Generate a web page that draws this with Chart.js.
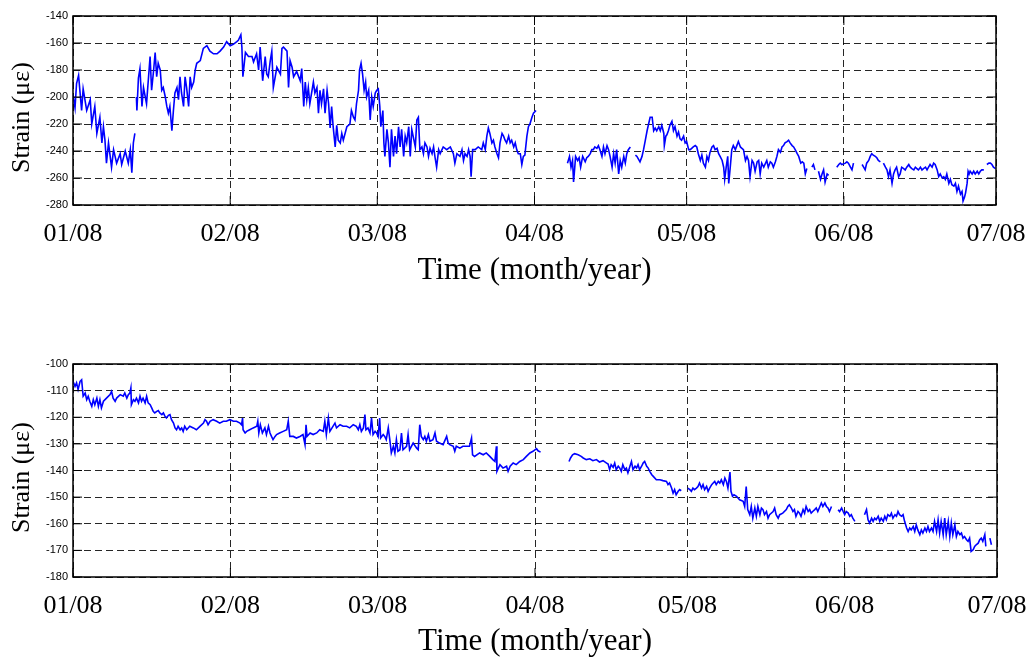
<!DOCTYPE html>
<html>
<head>
<meta charset="utf-8">
<script src="https://cdn.jsdelivr.net/npm/chart.js@4.4.1/dist/chart.umd.min.js"></script>
<style>
  body { margin: 0; background: #fff; }
  canvas { position: absolute; left: 0; }
  #topChart { top: 0; }
  #bottomChart { top: 340px; }
</style>
</head>
<body>
<canvas id="topChart" width="1027" height="300"></canvas>
<canvas id="bottomChart" width="1027" height="324"></canvas>
<script>
// days counted from 1 Jan 2008, month starts used as x ticks
const monthDays = [0, 31, 60, 91, 121, 152, 182];
const monthLabels = ["01/08", "02/08", "03/08", "04/08", "05/08", "06/08", "07/08"];
const yTitle = "Strain (\u03bc\u03b5)";
const xTitle = "Time (month/year)";

// upper gauge (null = missing readings)
const topDays = [
  0, 0.4, 0.7, 1.1, 1.7, 2.0, 2.7, 3.4, 3.7, 4.3, 4.7, 5.3, 5.7, 6.0, 6.3, 6.6, 7.0, 7.6, 8.0, 8.6,
  9.3, 9.6, 10.3, 10.9, 11.3, 11.6, 11.9, 12.2, 12.4, 12.5, 12.6, 12.9, 13.2, 13.6, 13.9, 14.5, 15.2,
  15.5, 15.9, 16.2, 16.5, 16.8, 17.2, 17.5, 17.8, 18.2, 18.5, 18.8, 19.1, 19.5, 19.8, 20.1, 20.5, 20.8,
  21.1, 21.4, 21.8, 22.1, 22.4, 22.8, 23.1, 23.4, 23.8, 24.1, 24.4, 25.1, 25.7, 26.4, 27.0, 27.7, 28.4,
  29.0, 29.7, 30.3, 31.0, 31.6, 32.3, 32.6, 33.1, 33.3, 33.5, 34.0, 34.6, 35.3, 35.6, 36.2, 36.6, 36.9,
  37.4, 37.9, 38.2, 38.5, 38.9, 39.2, 39.5, 40.2, 40.9, 41.2, 41.5, 42.2, 42.5, 42.8, 43.2, 43.5, 44.1,
  44.8, 45.1, 45.5, 45.8, 46.1, 46.4, 46.7, 47.4, 47.7, 48.1, 48.4, 48.7, 49.0, 49.4, 49.7, 50.1, 50.4,
  50.7, 51.0, 51.3, 51.7, 52.0, 52.3, 52.7, 53.0, 53.3, 54.0, 54.6, 54.9, 55.3, 55.6, 55.9, 56.3, 56.5,
  56.8, 57.1, 57.4, 57.7, 57.9, 58.3, 58.6, 58.9, 59.2, 59.6, 59.9, 60.2, 60.5, 60.7, 61.1, 61.3, 61.5,
  61.9, 62.2, 62.5, 62.8, 63.2, 63.5, 63.8, 64.2, 64.5, 64.8, 65.2, 65.5, 65.8, 66.2, 66.5, 66.8, 67.5,
  67.8, 68.1, 68.4, 68.8, 69.1, 69.4, 69.8, 70.1, 70.4, 70.8, 71.1, 71.4, 71.7, 72.1, 72.4, 73.0, 73.7,
  74.4, 75.0, 75.3, 75.7, 76.3, 76.7, 77.0, 77.3, 77.7, 78.0, 78.3, 78.5, 78.8, 79.3, 79.9, 80.6, 80.9,
  81.3, 81.6, 81.9, 82.2, 82.6, 82.9, 83.2, 83.6, 83.9, 84.2, 84.6, 84.9, 85.2, 85.5, 85.9, 86.2, 86.5,
  86.9, 87.2, 87.5, 87.8, 88.2, 88.5, 88.8, 89.1, 89.5, 89.8, 90.1, 90.5, 90.8, 91.3, 92.0,
  97.5, 97.9, 98.2, 98.5, 98.7, 98.9, 99.1, 99.5, 99.8, 100.1, 100.5, 101.0, 101.3, 101.6, 102.0, 102.3,
  102.6, 102.9, 103.3, 103.6, 103.9, 104.3, 104.6, 104.9, 105.3, 105.6, 105.9, 106.3, 106.6, 106.9,
  107.2, 107.6, 107.9, 108.2, 108.6, 108.9, 109.2, 109.5, 109.9, 110.3, 110.9, 111.2, 111.8, 112.2,
  112.5, 112.8, 113.2, 113.5, 113.8, 114.2, 114.5, 114.8, 115.1, 115.5, 115.8, 116.1, 116.5, 116.6,
  116.9, 117.1, 117.4, 117.7, 118.1, 118.4, 118.7, 119.1, 119.4, 119.7, 120.0, 120.4, 120.7, 121.0,
  121.4, 121.7, 122.0, 122.3, 122.7, 123.0, 123.3, 123.7, 124.0, 124.3, 124.7, 125.0, 125.3, 125.6,
  126.0, 126.3, 126.6, 127.0, 127.3, 127.6, 128.0, 128.3, 128.5, 128.8, 129.1, 129.3, 129.6, 129.9,
  130.2, 130.6, 130.9, 131.2, 131.6, 131.9, 132.2, 132.6, 132.9, 133.2, 133.5, 133.9, 134.2, 134.5,
  134.9, 135.2, 135.5, 135.8, 136.2, 136.8, 137.1, 137.5, 137.8, 138.1, 138.5, 138.8, 139.1, 139.5,
  139.8, 140.1, 140.4, 140.8, 141.1, 141.4, 141.8, 142.1, 142.4, 142.8, 143.1, 143.5, 143.8, 144.1,
  144.4, 144.7, 145.2, 145.7, 146.0, 146.3, 146.8, 147.0, 147.4, 147.7, 148.0, 148.3, 148.7, 149.0,
  150.0, 150.6, 151.0, 151.3, 151.6, 152.3, 152.6, 152.9, 153.3, 153.6, 153.9, 154.8, 155.6, 155.9,
  156.2, 156.5, 156.9, 157.2, 157.5, 157.8, 158.2, 158.5, 158.8, 159.2, 159.5, 159.8, 160.2, 160.5,
  160.8, 161.1, 161.5, 161.8, 162.1, 162.4, 162.8, 163.1, 163.4, 163.8, 164.1, 164.4, 164.8, 165.1,
  165.4, 165.8, 166.1, 166.4, 166.7, 167.1, 167.4, 167.7, 168.1, 168.4, 168.7, 169.0, 169.4, 169.7,
  170.0, 170.4, 170.7, 171.0, 171.4, 171.7, 172.0, 172.3, 172.7, 173.0, 173.3, 173.7, 174.0, 174.3,
  174.6, 175.0, 175.3, 175.5, 175.8, 176.0, 176.3, 176.5, 176.7, 176.9, 177.3, 177.6, 177.9, 178.3,
  178.6, 178.9, 179.2, 179.6, 180.0, 180.2, 180.6, 180.9, 181.2, 181.5, 181.9
];
const topStrain = [
  -198, -208, -190, -184, -210, -194, -210, -202, -220, -207, -227, -215, -234, -222, -232, -249, -234, -252, -239, -249,
  -242, -250, -240, -249, -239, -256, -234, -227, null, -200, -210, -186, -179, -207, -193, -205, -170,
  -195, -180, -167, -185, -175, -180, -195, -193, -200, -207, -212, -207, -225, -210, -197, -193, -202,
  -185, -197, -207, -185, -193, -207, -185, -193, -189, -180, -175, -173, -164, -162, -166, -168, -168,
  -166, -163, -159, -162, -161, -159, -158, -154, -163, -185, -167, -170, -170, -174, -168, -180, -163,
  -188, -170, -183, -185, -173, -166, -193, -178, -183, -164, -163, -166, -193, -173, -178, -185, -181,
  -188, -179, -207, -189, -202, -193, -205, -189, -197, -193, -212, -195, -205, -194, -212, -195, -205,
  -223, -207, -222, -237, -221, -232, -234, -227, -232, -222, -220, -210, -215, -217, -205, -195, -180,
  -175, -183, -195, -189, -200, -195, -217, -200, -207, -197, -195, -194, -207, -222, -210, -234, -244,
  -224, -234, -252, -224, -244, -229, -242, -222, -237, -224, -244, -229, -234, -222, -244, -224, -237,
  -217, -215, -239, -237, -242, -234, -237, -244, -238, -242, -237, -245, -252, -239, -242, -237, -239,
  -237, -242, -249, -242, -244, -239, -247, -242, -244, -239, -244, -259, -239, -239, -237, -239, -234,
  -239, -229, -223, -227, -234, -232, -237, -242, -245, -234, -227, -229, -232, -234, -229, -234, -232,
  -237, -234, -239, -242, -242, -250, -244, -243, -229, -222, -220, -215, -212, -210, null,
  -249, -244, -252, -247, -263, -254, -244, -247, -245, -252, -244, -248, -245, -244, -242, -239,
  -239, -237, -238, -236, -239, -244, -237, -242, -236, -239, -244, -252, -242, -249,
  -239, -257, -247, -252, -244, -249, -242, -239, -237, null, -243, -244, -248, -244,
  -239, -233, -225, -220, -215, -215, -225, -223, -225, -222, -225, -221, -227, -236,
  -229, -228, -225, -221, -218, -225, -222, -229, -226, -231, -232, -229, -234, -233,
  -239, -239, -238, -237, -236, -237, -242, -247, -243, -249, -252, -244, -247, -241,
  -237, -236, -239, -238, -242, -244, -247, -252, -261, -252, -244, -264, -252, -239,
  -236, -239, -236, -233, -237, -238, -239, -247, -244, -247, -259, -247, -249, -255,
  -248, -247, -257, -249, -252, -247, -252, -248, -249, -252, -248, -244, -239, -241,
  -237, -236, -234, -233, -232, -234, -236, -237, -239, -242, -244, -249, -248, -249,
  -257, -253, null, -252, -250, -254, null, -255, -261, -257, -254, -263, -257, -258,
  null, -252, -250, -249, -250, -249, -248, -249, -252, -254, -249, null, -250, -252,
  -254, -249, -247, -244, -242, -243, -244, -245, -247, -248, null, -249, -252, -254,
  -259, -254, -264, -257, -254, -252, -259, -257, -252, -253, -254, -252, -250, -252,
  -253, -254, -252, -253, -254, -252, -254, -253, -252, -254, -252, -250, -252, -249,
  -250, -254, -259, -257, -260, -259, -261, -257, -264, -261, -265, -266, -264, -270,
  -266, -272, -270, -277, -274, -271, -264, -255, -257, -255, -257, -255, -257, -255,
  -257, -255, -254, -254, null, -250, -249, -249, -250, -252, -253
];

// lower gauge
const botDays = [
  0, 0.4, 0.7, 1.0, 1.4, 1.7, 2.0, 2.4, 2.7, 3.0, 3.3, 3.7, 4.0, 4.3, 4.7, 5.0, 5.3, 5.6, 6.0, 6.6,
  7.3, 7.6, 7.9, 8.3, 8.6, 9.3, 9.9, 10.2, 10.6, 10.9, 11.2, 11.4, 11.5, 11.9, 12.2, 12.5, 12.9, 13.2,
  13.5, 13.8, 14.2, 14.5, 14.8, 15.2, 15.5, 15.8, 16.1, 16.5, 16.8, 17.1, 17.5, 17.8, 18.1, 18.4, 18.8,
  19.1, 19.4, 19.8, 20.1, 20.4, 20.7, 21.1, 21.4, 21.7, 22.0, 22.4, 23.0, 23.7, 24.3, 25.0, 25.7, 26.0,
  26.3, 26.6, 27.0, 27.6, 28.3, 28.9, 29.6, 30.2, 30.9, 31.6, 32.2, 32.9, 33.2, 33.4, 33.5, 33.9, 34.2,
  34.8, 35.5, 36.2, 36.4, 36.6, 36.9, 37.3, 37.8, 38.1, 38.5, 38.8, 39.1, 39.4, 39.8, 40.1, 40.7, 41.4,
  42.1, 42.4, 42.7, 43.4, 44.0, 44.7, 45.3, 45.7, 45.9, 46.1, 46.7, 47.3, 48.0, 48.6, 49.3, 49.6, 49.9,
  50.3, 50.6, 51.2, 51.6, 51.9, 52.6, 53.2, 53.9, 54.5, 55.2, 55.8, 56.2, 56.5, 56.8, 57.2, 57.5, 57.7,
  58.1, 58.5, 58.8, 59.1, 59.5, 59.8, 60.1, 60.4, 60.6, 61.1, 61.4, 61.7, 62.1, 62.4, 62.7, 63.1, 63.4,
  63.7, 64.0, 64.4, 64.7, 65.0, 65.7, 66.0, 66.3, 67.0, 67.7, 68.0, 68.3, 68.6, 69.0, 69.3, 69.6, 70.0,
  70.3, 70.9, 71.3, 71.6, 72.2, 72.9, 73.6, 73.9, 74.2, 74.9, 75.2, 75.5, 76.2, 76.8, 77.5, 78.1, 78.5,
  78.7, 79.1, 80.1, 80.8, 81.4, 82.1, 82.7, 83.1, 83.4, 83.5, 84.1, 84.7, 85.4, 85.7, 86.1, 86.7, 87.3,
  88.0, 88.7, 89.3, 90.0, 90.6, 91.3, 91.6, 92.1, 93.0,
  97.7, 98.0, 98.4, 98.8, 99.5, 100.1, 100.5, 101.1, 101.8, 102.4, 103.1, 103.7, 104.4, 105.1, 105.4,
  105.7, 106.0, 106.4, 106.7, 107.0, 107.4, 107.7, 108.0, 108.3, 108.7, 109.0, 109.3, 109.7, 110.0,
  110.3, 110.7, 111.0, 111.3, 111.6, 112.0, 112.3, 112.6, 113.0, 113.3, 113.6, 114.0, 114.3, 114.9,
  115.6, 116.2, 116.9, 117.2, 117.5, 117.9, 118.2, 118.5, 118.8, 119.2, 119.5, 119.8, 120.2,
  121.1, 121.5, 121.8, 122.1, 122.4, 122.8, 123.1, 123.4, 123.8, 124.1, 124.4, 124.8, 125.1, 125.4,
  125.8, 126.1, 126.4, 126.7, 127.1, 127.4, 127.7, 128.1, 128.4, 128.7, 129.0, 129.4, 129.6, 129.9,
  130.2, 130.7, 131.3, 132.0, 132.3, 132.6, 132.9, 133.3, 133.6, 133.9, 134.3, 134.6, 134.9, 135.3,
  135.6, 135.9, 136.2, 136.6, 136.9, 137.2, 137.9, 138.2, 138.5, 138.9, 139.2, 139.8, 140.5, 140.8,
  141.1, 141.5, 141.8, 142.1, 142.4, 142.8, 143.1, 143.4, 143.8, 144.1, 144.4, 144.8, 145.1, 145.4,
  145.7, 146.1, 146.4, 146.7, 147.4, 147.7, 148.1, 148.4, 148.7, 149.0, 149.4, 149.8,
  150.7, 151.0, 151.4, 151.7, 152.0, 152.3, 152.7, 153.0, 153.3, 153.6, 154.0, 154.5,
  155.9, 156.3, 156.6, 156.9, 157.3, 157.6, 157.9, 158.2, 158.6, 158.9, 159.2, 159.6, 159.9, 160.2,
  160.5, 160.9, 161.2, 161.5, 161.9, 162.2, 162.5, 162.8, 163.2, 163.5, 163.8, 164.2, 164.5, 164.8,
  165.1, 165.5, 165.8, 166.1, 166.4, 166.8, 167.1, 167.4, 167.8, 168.1, 168.4, 168.7, 169.1, 169.4,
  169.7, 170.1, 170.4, 170.7, 171.0, 171.4, 171.7, 172.0, 172.4, 172.7, 173.0, 173.3, 173.7, 174.0,
  174.3, 174.7, 175.0, 175.3, 175.6, 176.0, 176.3, 176.6, 176.9, 177.3, 177.6, 177.9, 178.3, 178.6,
  178.9, 179.2, 179.6, 179.8, 180.2, 180.6, 180.9
];
const botStrain = [
  -106.5, -108.4, -107.1, -109.6, -106.5, -105.9, -112.1, -110.9, -113.4, -112.1, -114.0, -115.9, -113.4, -115.3, -112.8, -115.9, -113.4, -116.5, -114.0, -112.8,
  -111.5, -110.3, -112.8, -114.0, -112.8, -111.5, -112.1, -110.9, -112.8, -111.5, -110.9, -109.0, -115.3, -113.4, -114.0, -112.8, -114.6, -112.1,
  -114.0, -112.8, -114.6, -112.1, -114.6, -115.3, -116.5, -117.8, -118.4, -117.8, -117.5, -118.4, -119.0, -118.4, -119.6, -120.3, -119.3,
  -119.0, -120.9, -122.2, -124.0, -124.7, -123.4, -124.7, -124.0, -125.3, -123.4, -124.7, -123.4, -124.0, -124.7, -123.4, -122.2, -120.9,
  -121.5, -122.8, -121.5, -120.9, -121.5, -122.2, -121.5, -121.5, -120.9, -121.5, -121.5, -122.2, -122.8, -120.3, -124.7, -125.9, -125.3,
  -124.7, -124.0, -123.4, -121.5, -125.9, -122.8, -125.9, -124.0, -126.5, -123.4, -125.9, -127.2, -128.4, -127.2, -126.5, -125.9, -125.3,
  -124.7, -121.5, -127.2, -127.2, -127.8, -127.2, -126.5, -130.3, -122.8, -127.2, -125.9, -126.5, -125.9, -124.7, -125.3, -121.5, -126.5,
  -120.3, -125.3, -123.4, -122.2, -124.0, -122.8, -123.4, -123.4, -124.0, -122.8, -123.4, -124.7, -122.8, -125.3, -124.0, -119.0, -124.7,
  -124.0, -125.9, -120.3, -126.5, -125.3, -125.9, -127.2, -120.3, -127.8, -126.5, -127.2, -128.4, -124.0, -128.4, -133.4, -130.9, -133.4,
  -128.4, -132.8, -132.2, -125.9, -132.2, -130.9, -126.5, -132.2, -129.7, -131.6, -132.2, -122.8, -127.2, -128.4, -127.2, -129.0, -126.5,
  -129.0, -128.4, -125.9, -129.0, -129.7, -130.3, -127.2, -129.7, -130.3, -130.9, -132.8, -130.9, -131.6, -130.9, -130.9, -130.9, -127.8,
  -134.1, -134.7, -133.4, -134.1, -133.4, -134.7, -135.9, -136.6, -130.9, -140.3, -137.8, -139.1, -138.4, -140.3, -138.4, -137.2, -137.8,
  -136.6, -135.9, -134.7, -133.4, -132.8, -131.8, -132.6, -133.1, null,
  -136.6, -135.3, -134.1, -133.7, -134.1, -134.7, -135.3, -135.9, -135.6, -136.3, -135.9, -136.8, -136.3, -137.2, -137.6,
  -139.7, -137.8, -138.8, -137.2, -139.7, -138.4, -139.1, -140.3, -137.8, -139.7, -139.1, -140.9, -138.4, -136.6,
  -139.7, -138.4, -139.1, -137.8, -139.7, -138.4, -137.2, -136.6, -138.4, -139.1, -140.3, -141.6, -142.2, -143.5,
  -143.5, -143.8, -144.1, -145.3, -144.7, -146.6, -148.5, -147.2, -149.1, -147.8, -147.2, -147.6, null,
  -146.6, -147.2, -147.8, -146.6, -147.2, -146.6, -146.0, -144.7, -146.6, -145.3, -147.2, -146.0, -147.8, -146.6,
  -145.3, -144.7, -144.1, -145.3, -144.1, -144.7, -143.5, -145.3, -142.8, -144.1, -146.6, -140.6, -147.8, -149.7,
  -149.1, -149.7, -151.0, -151.6, -153.5, -146.0, -154.7, -156.6, -153.5, -157.9, -154.1, -157.2, -153.5, -156.6,
  -154.1, -154.7, -156.6, -155.4, -157.9, -156.6, -155.4, -154.1, -156.6, -157.9, -156.6, -156.0, -154.7, -153.5,
  -152.9, -154.1, -155.4, -154.7, -157.2, -155.4, -156.0, -157.2, -154.7, -156.0, -153.5, -155.4, -154.7, -156.0,
  -155.4, -154.7, -154.1, -155.4, -152.2, -153.5, -152.2, -153.5, -154.1, -155.4, -153.5, null,
  -154.7, -155.4, -154.1, -155.4, -156.6, -155.4, -156.0, -157.2, -156.6, -157.9, -159.1, null,
  -156.6, -154.7, -158.5, -159.7, -157.9, -159.1, -157.9, -158.5, -157.2, -159.1, -157.9, -159.1, -157.2, -158.5,
  -156.6, -157.2, -156.0, -157.9, -156.6, -157.2, -155.4, -156.6, -157.2, -156.6, -159.1, -161.6, -162.9, -161.6,
  -162.3, -161.0, -162.9, -160.4, -162.3, -164.1, -162.3, -163.5, -161.6, -162.9, -161.0, -162.9, -161.6, -162.9,
  -159.1, -162.9, -158.5, -163.5, -159.1, -164.1, -157.9, -164.1, -159.1, -164.8, -159.7, -164.1, -160.4, -164.8,
  -162.9, -164.1, -163.5, -165.4, -164.8, -166.0, -166.6, -165.4, -170.4, -169.8, -168.5, -167.9, -167.3, -166.0,
  -165.4, -166.6, -164.1, -168.5, null, -165.4, -167.9
];

const framePlugin = {
  id: "frame",
  afterDraw(chart) {
    const { ctx, chartArea: a, scales } = chart;
    ctx.save();
    ctx.strokeStyle = "#000";
    ctx.lineWidth = 1;
    ctx.beginPath();
    scales.x.ticks.forEach((t) => {
      const px = scales.x.getPixelForValue(t.value);
      ctx.moveTo(px, a.bottom);
      ctx.lineTo(px, a.bottom - 9);
      ctx.moveTo(px, a.top);
      ctx.lineTo(px, a.top + 9);
    });
    scales.y.ticks.forEach((t) => {
      const py = scales.y.getPixelForValue(t.value);
      ctx.moveTo(a.left, py);
      ctx.lineTo(a.left + 9, py);
      ctx.moveTo(a.right, py);
      ctx.lineTo(a.right - 9, py);
    });
    ctx.stroke();
    ctx.lineWidth = 1.5;
    ctx.strokeRect(a.left, a.top, a.right - a.left, a.bottom - a.top);

    // y title, drawn by hand to sit where the original puts it
    ctx.fillStyle = "#000";
    ctx.font = '26px "Liberation Serif"';
    ctx.textAlign = "center";
    ctx.textBaseline = "middle";
    ctx.translate(22, (a.top + a.bottom) / 2 + 7);
    ctx.rotate(-Math.PI / 2);
    ctx.fillText(yTitle, 0, 0);
    ctx.restore();
  },
};

function renderStrainChart(id, days, strain, yMin, yMax, yStep, padding, xAxisHeight) {
  const ctx = document.getElementById(id).getContext("2d");
  return new Chart(ctx, {
    type: "line",
    data: {
      datasets: [
        {
          data: days.map((d, i) => ({ x: d, y: strain[i] })),
          borderColor: "#0000ff",
          borderWidth: 1.6,
          pointRadius: 0,
          tension: 0,
          spanGaps: false,
        },
      ],
    },
    options: {
      responsive: false,
      animation: false,
      layout: { padding },
      plugins: { legend: { display: false }, tooltip: { enabled: false } },
      scales: {
        x: {
          type: "linear",
          min: 0,
          max: 182,
          afterBuildTicks: (scale) => {
            scale.ticks = monthDays.map((v) => ({ value: v }));
          },
          afterFit: (scale) => {
            // the end labels may hang into the page margin
            scale.height = xAxisHeight;
            scale.paddingLeft = 0;
            scale.paddingRight = 0;
          },
          ticks: {
            autoSkip: false,
            maxRotation: 0,
            padding: 14,
            color: "#000",
            font: { family: "Liberation Serif", size: 26 },
            callback: (v) => monthLabels[monthDays.indexOf(v)],
          },
          grid: { color: "rgba(0,0,0,0.85)", lineWidth: 1, drawTicks: false },
          border: { display: false, dash: [7, 4] },
          title: {
            display: true,
            text: xTitle,
            color: "#000",
            font: { family: "Liberation Serif", size: 31 },
            padding: { top: 0, bottom: 0 },
          },
        },
        y: {
          min: yMin,
          max: yMax,
          afterFit: (scale) => {
            scale.width = 73;
          },
          ticks: {
            stepSize: yStep,
            padding: 5,
            color: "#000",
            font: { family: "Liberation Sans", size: 11 },
          },
          grid: { color: "rgba(0,0,0,0.85)", lineWidth: 1, drawTicks: false },
          border: { display: false, dash: [7, 4] },
        },
      },
    },
    plugins: [framePlugin],
  });
}

renderStrainChart("topChart", topDays, topStrain, -280, -140, 20,
  { top: 16, right: 31, bottom: 11, left: 0 }, 84);
renderStrainChart("bottomChart", botDays, botStrain, -180, -100, 10,
  { top: 24, right: 30, bottom: 4, left: 0 }, 83);
</script>
</body>
</html>
